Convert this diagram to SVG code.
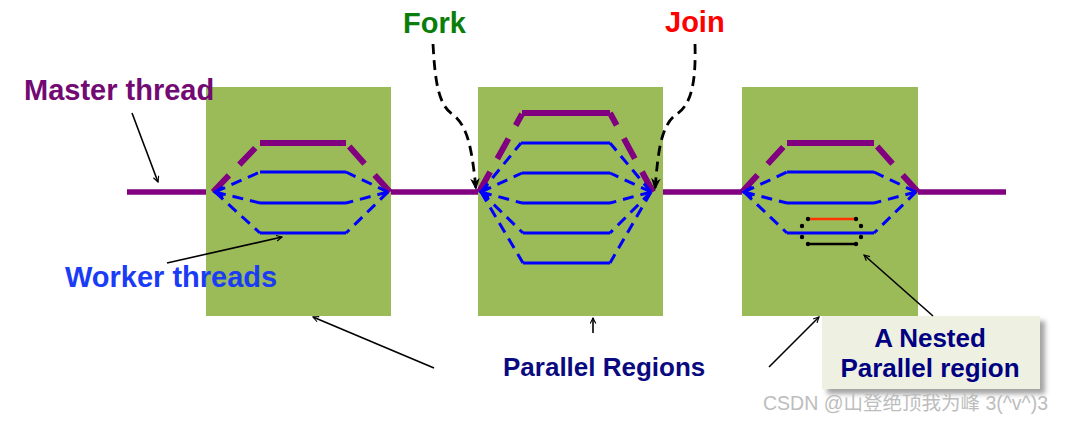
<svg xmlns="http://www.w3.org/2000/svg" width="1065" height="423" viewBox="0 0 1065 423">
<style>
.region{fill:#9BBB59}
.mline{stroke:#800080;stroke-width:5.5;fill:none}
.pd{stroke:#800080;stroke-width:6;fill:none;stroke-dasharray:23 15}
.ps{stroke:#800080;stroke-width:6;fill:none}
.bd{stroke:#0000FF;stroke-width:3;fill:none;stroke-dasharray:11 7}
.bs{stroke:#0000FF;stroke-width:3;fill:none}
.arr{stroke:#000;stroke-width:1.6;fill:none;marker-end:url(#ah)}
.darr{stroke:#000;stroke-width:2.8;fill:none;stroke-dasharray:10 6;marker-end:url(#ah2)}
.lbl{font-family:"Liberation Sans",Arial,sans-serif;font-weight:bold}
</style>
<defs>
<marker id="ah" viewBox="0 0 10 10" refX="9" refY="5" markerWidth="7" markerHeight="7" orient="auto" markerUnits="userSpaceOnUse">
<path d="M1,1 L9,5 L1,9" fill="none" stroke="#000" stroke-width="1.6"/>
</marker>
<marker id="ah2" viewBox="0 0 10 10" refX="9" refY="5" markerWidth="12" markerHeight="12" orient="auto" markerUnits="userSpaceOnUse">
<path d="M0,1 L10,5 L0,9 L3,5 Z" fill="#000"/>
</marker>
<filter id="sh" x="-10%" y="-10%" width="130%" height="140%">
<feGaussianBlur stdDeviation="2.5"/>
</filter>
</defs>

<g id="master-line">
<line class="mline" x1="127" y1="192" x2="214" y2="192"/>
<line class="mline" x1="390" y1="192" x2="479" y2="192"/>
<line class="mline" x1="653" y1="192" x2="742" y2="192"/>
<line class="mline" x1="917" y1="192" x2="1006" y2="192"/>
</g>

<g id="region1">
<rect class="region" x="206" y="87" width="185" height="229"/>
<path class="pd" d="M213,192 L260,143"/>
<path class="ps" d="M260,143 H346"/>
<path class="pd" d="M390,192 L346,143"/>
<path class="bd" d="M215,192 L260,172"/><path class="bs" d="M260,172 H346"/><path class="bd" d="M388,192 L346,172"/>
<path class="bd" d="M215,192 L260,203"/><path class="bs" d="M260,203 H346"/><path class="bd" d="M388,192 L346,203"/>
<path class="bd" d="M215,192 L260,233"/><path class="bs" d="M260,233 H346"/><path class="bd" d="M388,192 L346,233"/>
<path class="bs" d="M223,187 L215,192 L223,197"/>
</g>

<g id="region2">
<rect class="region" x="478" y="87" width="185" height="229"/>
<path class="pd" d="M479,192 L522,114"/>
<path class="ps" d="M522,113 H610"/>
<path class="pd" d="M653,192 L610,113"/>
<path class="bd" d="M481,192 L521,143"/><path class="bs" d="M521,143 H610"/><path class="bd" d="M651,192 L610,143"/>
<path class="bd" d="M481,192 L522,173"/><path class="bs" d="M522,173 H610"/><path class="bd" d="M651,192 L610,173"/>
<path class="bd" d="M481,192 L522,203"/><path class="bs" d="M522,203 H610"/><path class="bd" d="M651,192 L610,203"/>
<path class="bd" d="M481,192 L523,233"/><path class="bs" d="M523,233 H610"/><path class="bd" d="M651,192 L610,233"/>
<path class="bd" d="M481,192 L523,263"/><path class="bs" d="M523,263 H610"/><path class="bd" d="M651,192 L610,263"/>
<path class="bs" d="M489,187 L481,192 L489,197"/>
</g>

<g id="region3">
<rect class="region" x="742" y="87" width="176" height="229"/>
<path class="pd" d="M742,192 L787,143"/>
<path class="ps" d="M787,143 H874"/>
<path class="pd" d="M918,192 L874,143"/>
<path class="bd" d="M744,192 L787,172"/><path class="bs" d="M787,172 H874"/><path class="bd" d="M916,192 L874,172"/>
<path class="bd" d="M744,192 L787,203"/><path class="bs" d="M787,203 H874"/><path class="bd" d="M916,192 L874,203"/>
<path class="bd" d="M744,192 L787,233"/><path class="bs" d="M787,233 H874"/><path class="bd" d="M916,192 L874,233"/>
<path class="bs" d="M752,187 L744,192 L752,197"/>
</g>

<g id="nested-threads">
<line x1="810" y1="219" x2="855" y2="219" stroke="#FF3300" stroke-width="2.5"/>
<line x1="810" y1="244" x2="855" y2="244" stroke="#000" stroke-width="2.5"/>
<g fill="#000">
<circle cx="808" cy="219" r="2.2"/><circle cx="802" cy="226" r="2.2"/><circle cx="802" cy="237" r="2.2"/><circle cx="808" cy="244" r="2.2"/>
<circle cx="856" cy="219" r="2.2"/><circle cx="861" cy="226" r="2.2"/><circle cx="861" cy="237" r="2.2"/><circle cx="856" cy="244" r="2.2"/>
</g>
</g>

<g id="nested-label">
<rect x="827" y="321" width="218" height="73" fill="#666" opacity="0.6" filter="url(#sh)"/>
<rect x="822" y="316" width="218" height="73" fill="#EEF1E2"/>
<text class="lbl" x="930" y="347" font-size="26" fill="#000080" text-anchor="middle">A Nested</text>
<text class="lbl" x="930" y="377" font-size="26" fill="#000080" text-anchor="middle">Parallel region</text>
</g>

<g id="connectors">
<path class="darr" d="M433,44 C435,80 438,104 452,114 C468,125 472,150 476,189"/>
<path class="darr" d="M695,44 C696,80 692,104 677,114 C660,125 658,155 655,189"/>
<line class="arr" x1="132" y1="113" x2="158" y2="182"/>
<line class="arr" x1="167" y1="263" x2="282" y2="237"/>
<line class="arr" x1="434" y1="368" x2="313" y2="317"/>
<line class="arr" x1="593" y1="333" x2="593" y2="318"/>
<line class="arr" x1="769" y1="367" x2="819" y2="317"/>
<line class="arr" x1="933" y1="316" x2="864" y2="255"/>
</g>

<g id="labels">
<text class="lbl" x="403" y="33" font-size="29" fill="#0B7D0B">Fork</text>
<text class="lbl" x="665" y="32" font-size="29" fill="#FF0000">Join</text>
<text class="lbl" x="24" y="100" font-size="29" fill="#730A73">Master thread</text>
<text class="lbl" x="65" y="287" font-size="29" fill="#1A3CF5">Worker threads</text>
<text class="lbl" x="503" y="376" font-size="26" fill="#0A0A80">Parallel Regions</text>
</g>

<g id="watermark">
<text x="763" y="410" font-size="19.5" fill="#BDBDBD" font-family="'Liberation Sans','Noto Sans CJK SC',sans-serif">CSDN @山登绝顶我为峰 3(^v^)3</text>
</g>
</svg>
